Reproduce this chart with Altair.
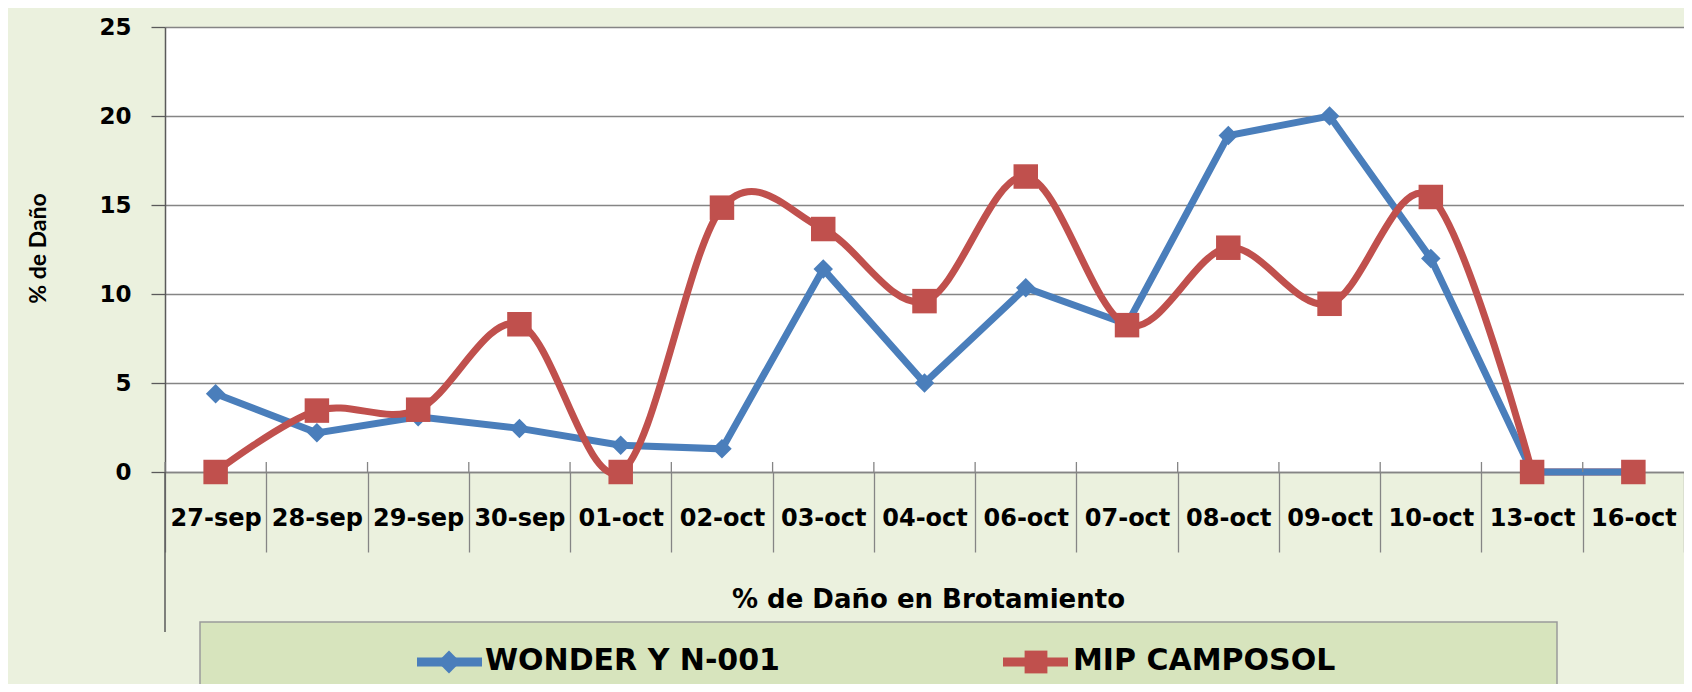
import altair as alt
import pandas as pd

# ---------------- data ----------------
dates = ["27-sep", "28-sep", "29-sep", "30-sep", "01-oct", "02-oct", "03-oct",
         "04-oct", "06-oct", "07-oct", "08-oct", "09-oct", "10-oct", "13-oct", "16-oct"]
wonder = [4.4, 2.2, 3.1, 2.45, 1.5, 1.3, 11.4, 5.0, 10.35, 8.3, 18.9, 20.0, 12.0, 0.0, 0.0]
mip = [0.0, 3.45, 3.5, 8.3, 0.0, 14.85, 13.65, 9.6, 16.6, 8.25, 12.6, 9.45, 15.45, 0.0, 0.0]
series_names = ["WONDER Y N-001", "MIP CAMPOSOL"]
series_colors = ["#4A7EBB", "#C0504D"]
y_ticks = [0, 5, 10, 15, 20, 25]

idx = list(range(len(dates)))
df = pd.concat([
    pd.DataFrame({"fecha": dates, "idx": idx, "valor": wonder, "serie": series_names[0]}),
    pd.DataFrame({"fecha": dates, "idx": idx, "valor": mip, "serie": series_names[1]}),
], ignore_index=True)
last_smooth = dates.index("13-oct")

# ---------------- style ----------------
W, H = 1519, 445
GRID = "#858585"
AXIS = "#5a5a5a"
FONT = "DejaVu Sans"
BG = "#EBF1DE"
LEG_BG = "#D7E4BD"

x_enc = alt.X(
    "fecha:N", sort=dates,
    scale=alt.Scale(type="band", paddingInner=0, paddingOuter=0),
    axis=alt.Axis(
        title="% de Daño en Brotamiento", titleFont=FONT, titleFontSize=26,
        titleFontWeight="bold", titleColor="#000000", titleX=763, titleY=127,
        titleBaseline="middle", titleAlign="center",
        labelFont=FONT, labelFontSize=24, labelFontWeight="bold", labelColor="#000000",
        labelAngle=0, labelBaseline="middle", labelPadding=-34, labelOverlap=False,
        labelFlush=False, tickBand="extent", tickSize=80, tickColor=GRID, tickWidth=1.3,
        domain=True, domainColor=GRID, domainWidth=1.3, grid=False,
    ),
)
y_enc = alt.Y(
    "valor:Q", scale=alt.Scale(domain=[0, 25], nice=False, zero=True),
    axis=alt.Axis(
        values=y_ticks, title="% de Daño", titleFont="Lato", titleFontSize=23,
        titleFontWeight="bold", titleColor="#000000", titleAngle=270, titleX=-127,
        titleY=221, titleAlign="center", titleBaseline="middle",
        labelFont=FONT, labelFontSize=23, labelFontWeight="bold", labelColor="#000000",
        labelPadding=20, tickSize=14, tickColor=AXIS, tickWidth=1.3,
        domainColor=AXIS, domainWidth=1.5, grid=True, gridColor=GRID, gridWidth=1.3,
    ),
)

base = alt.Chart(df).encode(x=x_enc, y=y_enc)
is_blue = alt.datum.serie == series_names[0]
is_red = alt.datum.serie == series_names[1]

# small upward part of the category separators
sep_up = alt.Chart(df).transform_filter(is_blue).mark_rule(
    color=GRID, strokeWidth=1.3).encode(
    x=alt.X("fecha:N", sort=dates, bandPosition=0), y=alt.value(H - 10), y2=alt.value(H))

red_tail = base.transform_filter(is_red).transform_filter(
    alt.datum.idx >= last_smooth).mark_line(
    color=series_colors[1], strokeWidth=7)
blue_line = base.transform_filter(is_blue).mark_line(
    color=series_colors[0], strokeWidth=7)
red_line = base.transform_filter(is_red).transform_filter(
    alt.datum.idx <= last_smooth).mark_line(
    color=series_colors[1], strokeWidth=7, interpolate="cardinal")
blue_pts = base.transform_filter(is_blue).mark_point(
    shape="diamond", filled=True, size=380, opacity=1, color=series_colors[0])
red_pts = base.transform_filter(is_red).mark_point(
    shape="square", filled=True, size=600, opacity=1, color=series_colors[1])

one = pd.DataFrame({"k": [0]})

# y axis line continued below the plot
axis_ext = alt.Chart(one).mark_rule(color=AXIS, strokeWidth=1.5).encode(
    x=alt.value(0), y=alt.value(H), y2=alt.value(605))

# legend box
leg_box = alt.Chart(one).mark_rect(fill=LEG_BG, stroke="#9a9a9a", strokeWidth=1.5).encode(
    x=alt.value(35), x2=alt.value(1392), y=alt.value(595), y2=alt.value(700))
leg_l1 = alt.Chart(one).mark_rule(color=series_colors[0], strokeWidth=9).encode(
    x=alt.value(252), x2=alt.value(317), y=alt.value(635))
leg_p1 = alt.Chart(one).mark_point(shape="diamond", filled=True, size=520, opacity=1,
                                   color=series_colors[0]).encode(
    x=alt.value(284), y=alt.value(635))
leg_t1 = alt.Chart(one).mark_text(font=FONT, fontSize=30, fontWeight="bold", color="#000000",
                                  align="left", baseline="middle").encode(
    x=alt.value(320), y=alt.value(634), text=alt.value(series_names[0]))
leg_l2 = alt.Chart(one).mark_rule(color=series_colors[1], strokeWidth=9).encode(
    x=alt.value(838), x2=alt.value(903), y=alt.value(635))
leg_p2 = alt.Chart(one).mark_point(shape="square", filled=True, size=520, opacity=1,
                                   color=series_colors[1]).encode(
    x=alt.value(871), y=alt.value(635))
leg_t2 = alt.Chart(one).mark_text(font=FONT, fontSize=30, fontWeight="bold", color="#000000",
                                  align="left", baseline="middle").encode(
    x=alt.value(908), y=alt.value(634), text=alt.value(series_names[1]))

chart = alt.layer(
    red_tail, blue_line, red_line, blue_pts, red_pts, sep_up,
    axis_ext, leg_box, leg_l1, leg_p1, leg_t1, leg_l2, leg_p2, leg_t2,
).properties(
    width=W, height=H,
    padding={"left": 157, "top": 19, "right": 0, "bottom": 212},
    autosize=alt.AutoSizeParams(type="none"),
    background=BG,
).configure_view(fill="white", strokeWidth=0)

chart.save("out.html", embed_options={"renderer": "svg", "actions": False})
